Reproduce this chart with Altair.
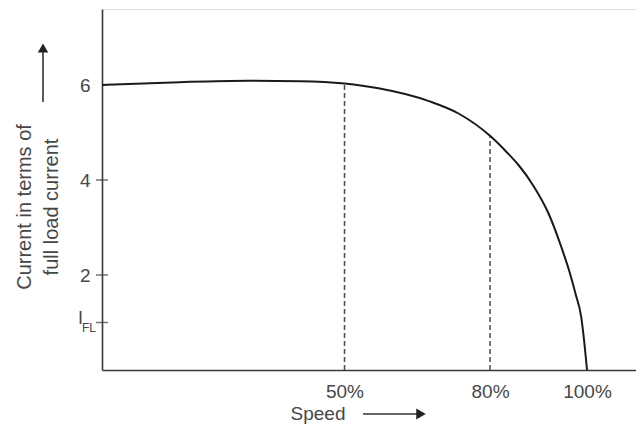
import altair as alt
import pandas as pd

# Curve: speed (% of synchronous) vs current (x full-load current)
speed = [0, 16, 30, 41, 50, 57, 67.4, 73.5, 80, 83.5, 86, 89, 92, 94.7, 96.7, 97.7, 98.8, 99.4, 100]
current = [6.0, 6.06, 6.09, 6.08, 6.03, 5.93, 5.66, 5.40, 4.93, 4.58, 4.30, 3.87, 3.31, 2.59, 1.96, 1.58, 1.12, 0.62, 0.0]

marked_speeds = [50, 80]          # dashed guide lines
x_tick_values = [50, 80, 100]     # x tick labels (percent)
y_tick_values = [2, 4, 6]         # y tick labels
y_tick_marks = [1, 2, 4]          # crossing tick marks on y axis
i_fl_value = 1                    # position of I_FL on y axis

curve_df = pd.DataFrame({"speed": speed, "current": current})
dash_df = pd.DataFrame({
    "speed": marked_speeds,
    "top": [current[speed.index(s)] for s in marked_speeds],
    "bottom": [0 for _ in marked_speeds],
})
tick_df = pd.DataFrame({"v": y_tick_marks})
ifl_df = pd.DataFrame({"v": [i_fl_value]})

W, H = 534, 361
FONT = "Liberation Sans"
TEXT = "#474747"
AXIS = "#3a3a3a"

xs = alt.Scale(domain=[0, 110.1], nice=False, zero=False)
ys = alt.Scale(domain=[0, 7.6], nice=False)

curve = alt.Chart(curve_df).mark_line(
    interpolate="monotone", color="#1a1a1a", strokeWidth=2
).encode(
    x=alt.X("speed:Q", scale=xs, axis=alt.Axis(
        values=x_tick_values, labelExpr="datum.value + '%'", title=None,
        ticks=False, tickSize=0, grid=False, labelFont=FONT, labelFontSize=19,
        labelColor=TEXT, labelPadding=12, domainColor=AXIS, domainWidth=1.6,
        labelFlush=False, labelOverlap=False)),
    y=alt.Y("current:Q", scale=ys, axis=alt.Axis(
        values=y_tick_values, title=None, ticks=False, tickSize=0, grid=False,
        labelFont=FONT, labelFontSize=19, labelColor=TEXT, labelPadding=12,
        domainColor=AXIS, domainWidth=1.6, labelFlush=False, labelOverlap=False)),
)

dashes = alt.Chart(dash_df).mark_rule(
    strokeDash=[5, 3], color="#4a4a4a", strokeWidth=1.5
).encode(
    x=alt.X("speed:Q", scale=xs),
    y=alt.Y("bottom:Q", scale=ys),
    y2="top:Q",
)

yticks = alt.Chart(tick_df).mark_tick(
    orient="horizontal", size=12, thickness=1.5, color=AXIS
).encode(
    y=alt.Y("v:Q", scale=ys),
    x=alt.value(0),
)

ifl_i = alt.Chart(ifl_df).mark_text(
    text="I", font=FONT, fontSize=18, color=TEXT, align="right", baseline="middle", dy=-4
).encode(y=alt.Y("v:Q", scale=ys), x=alt.value(-19))

ifl_sub = alt.Chart(ifl_df).mark_text(
    text="FL", font=FONT, fontSize=12, color=TEXT, align="left", baseline="middle", dy=5
).encode(y=alt.Y("v:Q", scale=ys), x=alt.value(-20))

ytitle1 = alt.Chart(ifl_df).mark_text(
    text="Current in terms of", font=FONT, fontSize=20, color=TEXT,
    angle=270, align="center", baseline="middle"
).encode(x=alt.value(-77), y=alt.value(198))

ytitle2 = alt.Chart(ifl_df).mark_text(
    text="full load current", font=FONT, fontSize=20, color=TEXT,
    angle=270, align="center", baseline="middle"
).encode(x=alt.value(-50), y=alt.value(198))

yarrow_shaft = alt.Chart(ifl_df).mark_rule(color="#333", strokeWidth=1.6).encode(
    x=alt.value(-59), y=alt.value(93), y2=alt.value(40))
yarrow_head = alt.Chart(ifl_df).mark_point(
    shape="triangle-up", filled=True, size=110, color="#222", opacity=1).encode(
    x=alt.value(-59), y=alt.value(39))

xtitle = alt.Chart(ifl_df).mark_text(
    text="Speed", font=FONT, fontSize=19, color=TEXT, align="center", baseline="alphabetic"
).encode(x=alt.value(216), y=alt.value(411))

xarrow_shaft = alt.Chart(ifl_df).mark_rule(color="#333", strokeWidth=1.6).encode(
    x=alt.value(261), x2=alt.value(318), y=alt.value(405))
xarrow_head = alt.Chart(ifl_df).mark_point(
    shape="triangle-right", filled=True, size=120, color="#222", opacity=1).encode(
    x=alt.value(319), y=alt.value(405))

chart = alt.layer(
    dashes, curve, yticks, ifl_i, ifl_sub, ytitle1, ytitle2,
    yarrow_shaft, yarrow_head, xtitle, xarrow_shaft, xarrow_head
).properties(
    width=W, height=H,
    autosize=alt.AutoSizeParams(type="none"),
    padding={"left": 94, "top": 1, "right": 0, "bottom": 56},
).configure_view(stroke=None).configure(background="white")

chart.save("out.html", embed_options={"renderer": "svg", "actions": False})
